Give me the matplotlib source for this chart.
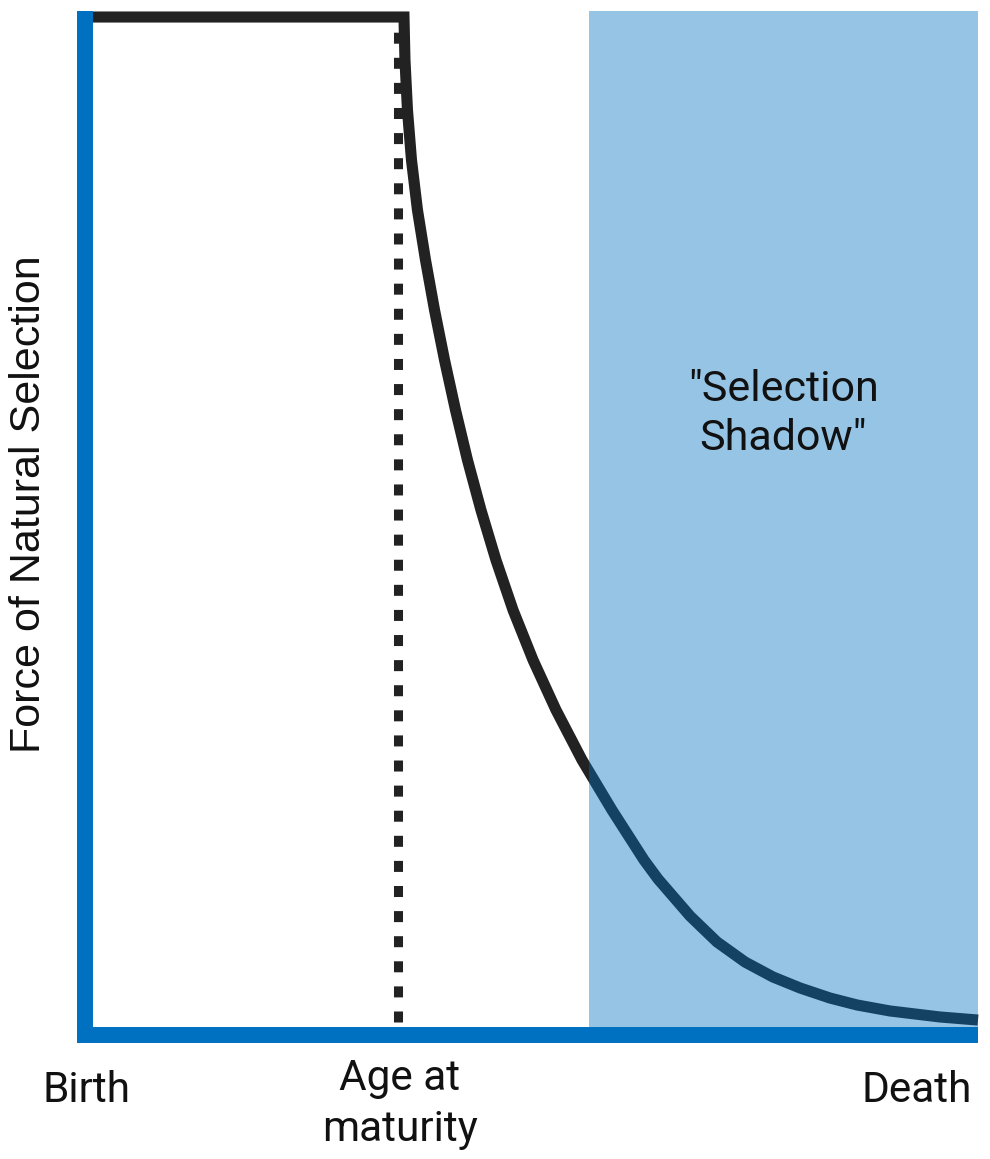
import matplotlib
matplotlib.use("Agg")
from matplotlib import pyplot as plt

# curve (age 0-100, force 0-100)
curve_age = [0.0, 35.72, 35.83, 36.11, 36.56, 37.23, 38.13, 39.14, 40.26,
             41.49, 42.83, 44.34, 46.02, 47.93, 50.17, 52.74, 55.66, 59.01,
             62.60, 64.17, 67.75, 70.77, 73.91, 77.04, 80.07, 83.43, 86.45,
             90.15, 95.74, 100.0]
curve_force = [100.0, 100.0, 95.78, 90.86, 85.95, 81.04, 76.13, 71.22, 66.31,
               61.39, 56.48, 51.57, 46.66, 41.75, 36.84, 31.93, 27.01, 22.10,
               17.19, 15.32, 11.69, 9.14, 7.17, 5.70, 4.62, 3.63, 2.95,
               2.36, 1.77, 1.47]
maturity_age = 35.05
maturity_line = [1.3, 100.0]
shadow_span = [56.4, 100.0]

blue = '#0070C0'
dark = '#222222'

plt.rcParams['font.family'] = ['Roboto', 'DejaVu Sans']

fig = plt.figure(figsize=(9.9, 11.59), dpi=100)
axes = fig.add_axes([85 / 990, 124 / 1159, 893 / 990, 1024 / 1159])
axes.set_xlim(0, 100)
axes.set_ylim(0, 100.59)

axes.plot(curve_age, curve_force, color=dark, linewidth=8,
          solid_joinstyle='miter', solid_capstyle='butt', zorder=2, clip_on=False)
axes.plot([maturity_age, maturity_age], maturity_line, color=dark, linewidth=6.5,
          linestyle=(0, (1.22, 1.56)), dash_capstyle='butt', zorder=2)
axes.axvspan(shadow_span[0], shadow_span[1], color=blue, alpha=0.41,
             linewidth=0, zorder=2.2)

axes.text(78.2, 61.0, '"Selection\nShadow"', ha='center', va='center',
          fontsize=31, linespacing=1.25, color='#111111', zorder=3)

for side in ['top', 'right']:
    axes.spines[side].set_visible(False)
for side in ['left', 'bottom']:
    axes.spines[side].set_color(blue)
    axes.spines[side].set_linewidth(11.5)
    axes.spines[side].set_capstyle('butt')
    axes.spines[side].set_zorder(2.5)
axes.spines['left'].set_bounds(-0.79, 100.59)
axes.set_xticks([])
axes.set_yticks([])

fig.text(87 / 990, 1 - 1090 / 1159, 'Birth', ha='center', va='center',
         fontsize=30.5, color='#111111')
fig.text(400 / 990, 1 - 1104 / 1159, 'Age at\nmaturity', ha='center', va='center',
         fontsize=30.5, linespacing=1.3, color='#111111')
fig.text(972 / 990, 1 - 1090 / 1159, 'Death', ha='right', va='center',
         fontsize=30.5, color='#111111')
fig.text(29 / 990, 1 - 504 / 1159, 'Force of Natural Selection', ha='center',
         va='center', rotation=90, fontsize=31, color='#111111',
         family=['Liberation Sans', 'DejaVu Sans'])

fig.savefig('out.png', dpi=100)
